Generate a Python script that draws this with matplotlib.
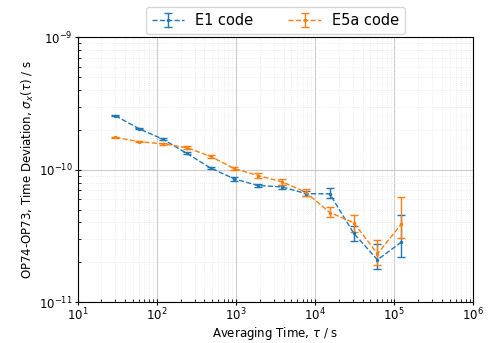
import matplotlib
matplotlib.use("Agg")
import matplotlib.pyplot as plt
import numpy as np

# averaging times (s)
tau = [30, 60, 120, 240, 480, 960, 1920, 3840, 7680, 15360, 30720, 61440, 122880]

# E1 code time deviation and error bars (lower, upper)
e1_dev = [2.56e-10, 2.04e-10, 1.70e-10, 1.33e-10, 1.03e-10, 8.53e-11, 7.6e-11,
          7.43e-11, 6.6e-11, 6.58e-11, 3.32e-11, 2.09e-11, 2.84e-11]
e1_lo = [2e-12, 2e-12, 2.5e-12, 2.5e-12, 2e-12, 2.5e-12, 2.5e-12,
         3e-12, 3e-12, 5.0e-12, 4.2e-12, 3.2e-12, 6.3e-12]
e1_hi = [2e-12, 2e-12, 2.5e-12, 2.5e-12, 2e-12, 2.5e-12, 2.5e-12,
         3e-12, 3e-12, 6.8e-12, 4.2e-12, 6.5e-12, 1.75e-11]

# E5a code
e5_dev = [1.76e-10, 1.63e-10, 1.57e-10, 1.47e-10, 1.26e-10, 1.02e-10, 9.03e-11,
          8.11e-11, 6.75e-11, 4.75e-11, 3.99e-11, 2.32e-11, 3.88e-11]
e5_lo = [2e-12, 2e-12, 2.5e-12, 3e-12, 3e-12, 3e-12, 3.5e-12,
         4e-12, 4e-12, 3.2e-12, 6.1e-12, 4.1e-12, 8.4e-12]
e5_hi = [2e-12, 2e-12, 2.5e-12, 3e-12, 3e-12, 3e-12, 3.5e-12,
         4e-12, 4e-12, 5.2e-12, 6.0e-12, 6.4e-12, 2.4e-11]

fig = plt.figure(figsize=(4.88, 3.43), dpi=100)
ax = fig.add_axes([0.159, 0.119, 0.811, 0.772])

ax.errorbar(tau, e1_dev, yerr=[e1_lo, e1_hi], fmt='.--', color='tab:blue',
            markersize=3, linewidth=1, capsize=3, elinewidth=1, label='E1 code')
ax.errorbar(tau, e5_dev, yerr=[e5_lo, e5_hi], fmt='.--', color='tab:orange',
            markersize=3, linewidth=1, capsize=3, elinewidth=1, label='E5a code')

ax.set_xscale('log')
ax.set_yscale('log')
ax.set_xlim(1e1, 1e6)
ax.set_ylim(1e-11, 1e-9)

ax.grid(True, which='major', color='#cccccc', linewidth=0.8)
ax.grid(True, which='minor', color='#e4e4e4', linestyle=':', linewidth=0.6)
ax.tick_params(which='major', direction='inout', length=4, labelsize=8.5, pad=1.5)
ax.tick_params(which='minor', direction='in', length=2.5)

ax.set_xlabel(r'Averaging Time, $\tau$ / s', fontsize=8.5, labelpad=1)
ax.set_ylabel(r'OP74-OP73, Time Deviation, $\sigma_x(\tau)$ / s', fontsize=8.5,
              labelpad=2)

ax.legend(loc='lower center', bbox_to_anchor=(0.5, 1.0), ncol=2, fontsize=10.5,
          borderaxespad=0.25, columnspacing=2.4, handlelength=2.2)

plt.savefig('out.png', dpi=100)
